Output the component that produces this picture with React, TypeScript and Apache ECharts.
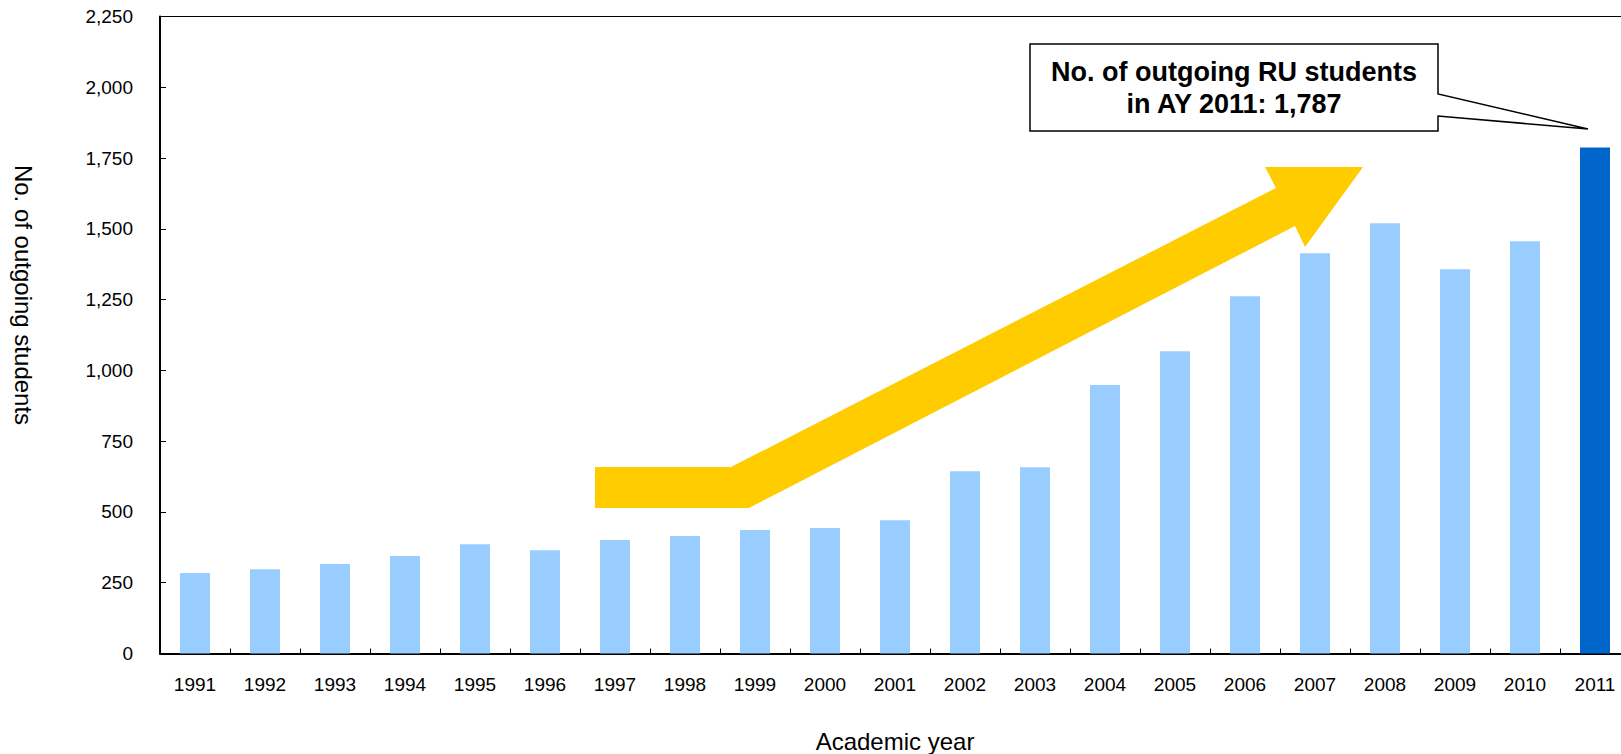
import React, { useEffect, useRef } from "react";
import * as echarts from "echarts";

const years = [
  "1991", "1992", "1993", "1994", "1995", "1996", "1997", "1998", "1999", "2000", "2001",
  "2002", "2003", "2004", "2005", "2006", "2007", "2008", "2009", "2010", "2011",
];
const outgoingStudents = [
  284, 298, 316, 344, 386, 365, 401, 415, 436, 443, 471,
  644, 658, 948, 1068, 1262, 1414, 1520, 1357, 1456, 1787,
];
const yTicks = [0, 250, 500, 750, 1000, 1250, 1500, 1750, 2000, 2250];
const calloutLines = ["No. of outgoing RU students", "in AY 2011: 1,787"];
const yAxisTitle = "No. of outgoing students";
const xAxisTitle = "Academic year";

const LIGHT = "#99CCFF";
const DARK = "#0066CC";
const FONT = "'Liberation Sans', Arial, sans-serif";

export default function App() {
  const ref = useRef<HTMLDivElement>(null);

  useEffect(() => {
    if (!ref.current) return;
    const chart = echarts.init(ref.current, undefined, { renderer: "svg" });
    const lastIdx = outgoingStudents.length - 1;
    const option: any = {
      animation: false,
      backgroundColor: "#fff",
      grid: {
        left: 160,
        top: 16.5,
        width: 1470,
        height: 637,
        containLabel: false,
        outerBoundsMode: "none",
        show: true,
        borderColor: "#000",
        borderWidth: 1,
        backgroundColor: "transparent",
      },
      xAxis: {
        type: "category",
        data: years,
        boundaryGap: true,
        name: xAxisTitle,
        nameLocation: "middle",
        nameGap: 76,
        nameTextStyle: { fontSize: 24, color: "#000", fontFamily: FONT },
        axisLine: { show: true, lineStyle: { color: "#000", width: 2 } },
        axisTick: { show: true, inside: true, length: 5, lineStyle: { color: "#000", width: 1 } },
        axisLabel: { fontSize: 19, color: "#000", margin: 21, fontFamily: FONT, interval: 0 },
        splitLine: { show: false },
      },
      yAxis: {
        type: "value",
        min: yTicks[0],
        max: yTicks[yTicks.length - 1],
        interval: yTicks[1] - yTicks[0],
        axisLine: { show: true, lineStyle: { color: "#000", width: 2 } },
        axisTick: { show: true, inside: true, length: 6, lineStyle: { color: "#000", width: 1 } },
        axisLabel: {
          fontSize: 19,
          color: "#000",
          margin: 27,
          fontFamily: FONT,
          formatter: (v: number) => v.toLocaleString("en-US"),
        },
        splitLine: { show: false },
      },
      series: [
        {
          type: "bar",
          barWidth: 30,
          data: outgoingStudents.map((v, i) => ({
            value: v,
            itemStyle: { color: i === lastIdx ? DARK : LIGHT },
          })),
        },
      ],
      graphic: [
        {
          type: "text",
          x: 23,
          y: 295,
          rotation: -Math.PI / 2,
          style: {
            text: yAxisTitle,
            fontSize: 24,
            fontFamily: FONT,
            fill: "#000",
            align: "center",
            verticalAlign: "middle",
          },
          z: 100,
        },
        {
          type: "polygon",
          shape: {
            points: [
              [595, 467], [731, 467], [1276, 188], [1265, 167], [1363, 167],
              [1305, 247], [1295, 226], [749, 508], [595, 508],
            ],
          },
          style: { fill: "#FFCC00", stroke: "none" },
          z: 100,
        },
        {
          type: "polygon",
          shape: {
            points: [
              [1030, 44], [1438, 44], [1438, 94], [1588, 129],
              [1438, 116], [1438, 131], [1030, 131],
            ],
          },
          style: { fill: "#fff", stroke: "#000", lineWidth: 1.5 },
          z: 100,
        },
        {
          type: "text",
          x: 1234,
          y: 72,
          style: {
            text: calloutLines[0],
            fontSize: 27,
            fontWeight: "bold",
            fontFamily: FONT,
            fill: "#000",
            align: "center",
            verticalAlign: "middle",
          },
          z: 101,
        },
        {
          type: "text",
          x: 1234,
          y: 104,
          style: {
            text: calloutLines[1],
            fontSize: 27,
            fontWeight: "bold",
            fontFamily: FONT,
            fill: "#000",
            align: "center",
            verticalAlign: "middle",
          },
          z: 101,
        },
      ],
    };
    chart.setOption(option);
    return () => chart.dispose();
  }, []);

  return (
    <div
      ref={ref}
      style={{ position: "absolute", left: 0, top: 0, width: 1621, height: 754 }}
    />
  );
}
